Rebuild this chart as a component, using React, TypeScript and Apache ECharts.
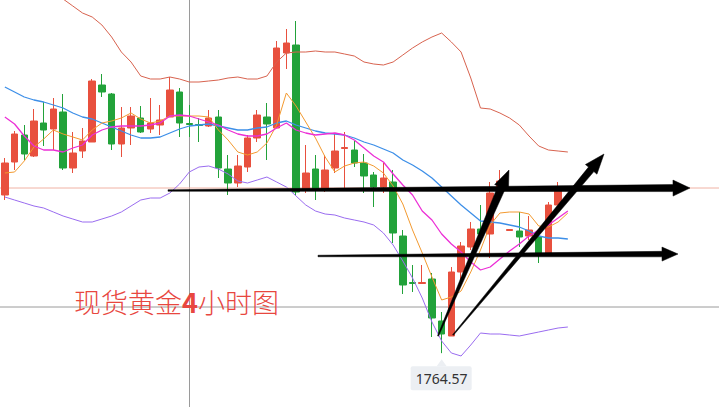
import React, { useEffect, useRef } from "react";
import * as echarts from "echarts";

// [open, close, low, high]
const candles: number[][] = [
  [1796.2, 1802.6, 1795.2, 1803.6],
  [1802.8, 1808.4, 1801.2, 1809.0],
  [1808.2, 1804.4, 1803.2, 1810.2],
  [1804.0, 1811.0, 1803.8, 1813.4],
  [1810.6, 1809.2, 1806.0, 1814.8],
  [1809.4, 1813.4, 1805.2, 1815.6],
  [1812.8, 1801.6, 1801.2, 1816.4],
  [1801.6, 1804.6, 1800.6, 1808.8],
  [1805.0, 1807.0, 1803.6, 1809.6],
  [1806.8, 1819.0, 1806.8, 1819.4],
  [1818.2, 1816.8, 1815.8, 1820.4],
  [1816.4, 1806.4, 1805.2, 1816.6],
  [1806.4, 1809.6, 1803.8, 1813.8],
  [1809.6, 1812.0, 1806.2, 1813.8],
  [1811.6, 1808.8, 1808.6, 1814.0],
  [1809.4, 1810.6, 1808.6, 1815.6],
  [1810.2, 1811.2, 1808.2, 1814.2],
  [1811.8, 1817.2, 1811.8, 1819.8],
  [1816.8, 1810.6, 1807.8, 1817.6],
  [1810.5, 1810.3, 1807.8, 1814.2],
  [1810.3, 1810.1, 1806.8, 1811.6],
  [1810.0, 1811.6, 1809.8, 1813.2],
  [1811.8, 1801.6, 1799.6, 1813.2],
  [1801.4, 1798.6, 1796.2, 1804.2],
  [1798.6, 1802.0, 1797.8, 1804.2],
  [1801.8, 1807.6, 1800.8, 1808.2],
  [1807.6, 1812.2, 1806.8, 1813.2],
  [1811.8, 1810.4, 1803.2, 1814.6],
  [1809.6, 1825.6, 1809.6, 1827.0],
  [1824.6, 1826.6, 1821.4, 1829.4],
  [1826.2, 1796.8, 1796.0, 1831.0],
  [1797.2, 1800.6, 1796.6, 1806.2],
  [1801.4, 1797.2, 1795.2, 1804.2],
  [1797.4, 1801.2, 1796.8, 1804.2],
  [1801.6, 1805.0, 1800.6, 1808.6],
  [1805.5, 1805.7, 1797.2, 1808.8],
  [1805.2, 1802.6, 1801.8, 1807.0],
  [1802.6, 1800.0, 1796.6, 1804.4],
  [1800.2, 1797.8, 1793.8, 1800.8],
  [1797.8, 1799.6, 1796.6, 1802.6],
  [1798.8, 1788.6, 1786.6, 1801.2],
  [1788.0, 1778.2, 1776.4, 1789.2],
  [1778.7, 1778.5, 1776.8, 1782.2],
  [1778.5, 1778.7, 1778.5, 1782.2],
  [1779.4, 1771.6, 1767.8, 1780.6],
  [1771.0, 1768.4, 1764.57, 1772.8],
  [1768.0, 1780.8, 1768.0, 1781.8],
  [1780.8, 1786.0, 1778.8, 1786.8],
  [1785.8, 1789.4, 1785.2, 1790.8],
  [1789.4, 1788.4, 1787.8, 1794.2],
  [1788.4, 1796.6, 1783.6, 1798.8],
  [1797.2, 1799.0, 1796.2, 1801.2],
  [1789.1, 1789.3, 1789.0, 1789.4],
  [1789.0, 1787.8, 1785.8, 1792.8],
  [1788.0, 1789.2, 1787.2, 1792.0],
  [1787.8, 1784.6, 1782.6, 1788.6],
  [1784.6, 1794.2, 1784.6, 1794.8],
  [1794.2, 1797.6, 1794.2, 1798.8],
];

const bollUpper = [
  1842.8, 1841.6, 1840.4, 1839.2, 1837.8, 1836.6, 1835.4, 1834.0, 1832.6, 1831.8,
  1830.2, 1827.8, 1824.8, 1822.8, 1820.0, 1819.4, 1819.4, 1819.8, 1819.4, 1818.8,
  1818.8, 1819.0, 1819.2, 1819.6, 1819.8, 1819.4, 1819.4, 1820.0, 1822.8, 1824.6,
  1824.8, 1824.8, 1825.0, 1824.8, 1824.8, 1824.4, 1824.0, 1822.8, 1822.4, 1822.2,
  1822.8, 1824.2, 1825.6, 1826.8, 1827.8, 1828.6, 1826.8, 1824.8, 1819.6, 1813.6,
  1813.4, 1812.6, 1811.6, 1810.2, 1808.0, 1806.0, 1805.2, 1805.0, 1804.8,
];

const bollMid = [
  1817.8, 1816.8, 1815.8, 1815.2, 1814.8, 1814.2, 1813.6, 1812.6, 1811.8, 1811.4,
  1810.6, 1809.8, 1809.0, 1808.2, 1807.6, 1807.6, 1807.8, 1808.6, 1809.4, 1810.0,
  1810.2, 1810.4, 1810.0, 1809.6, 1809.2, 1809.2, 1809.6, 1809.8, 1810.6, 1811.0,
  1810.2, 1809.6, 1809.0, 1808.6, 1808.4, 1808.2, 1807.6, 1806.8, 1806.2, 1805.4,
  1804.6, 1803.2, 1802.2, 1801.0, 1799.6, 1797.8, 1796.0, 1794.2, 1792.6, 1791.0,
  1790.8, 1790.6, 1790.2, 1789.8, 1789.0, 1788.0, 1787.6, 1787.6, 1787.4,
];

const bollLower = [
  1795.8, 1795.2, 1794.6, 1794.0, 1793.6, 1792.8, 1792.0, 1791.4, 1790.8, 1790.8,
  1791.4, 1792.0, 1792.8, 1794.0, 1795.2, 1795.6, 1795.6, 1796.6, 1798.4, 1800.8,
  1801.8, 1802.0, 1801.4, 1800.4, 1799.0, 1798.6, 1799.2, 1799.8, 1798.8, 1797.8,
  1796.0, 1794.2, 1793.0, 1792.4, 1792.2, 1791.6, 1791.2, 1790.8, 1790.2, 1788.6,
  1786.2, 1783.0, 1779.6, 1775.6, 1770.8, 1767.0, 1764.6, 1764.0, 1766.2, 1768.6,
  1768.4, 1768.4, 1768.2, 1768.0, 1768.4, 1768.8, 1769.2, 1769.6, 1769.8,
];

const ma5 = [
  1800.6, 1800.8, 1803.0, 1805.8, 1807.4, 1809.2, 1808.4, 1807.8, 1807.2, 1809.2,
  1810.6, 1811.0, 1811.6, 1812.6, 1811.4, 1810.6, 1811.0, 1812.0, 1812.0, 1812.0,
  1812.0, 1811.8, 1809.2, 1807.2, 1804.8, 1804.2, 1804.8, 1806.6, 1810.2, 1816.6,
  1814.0, 1810.8, 1807.6, 1803.8, 1800.8, 1802.0, 1802.6, 1802.8, 1802.0, 1800.6,
  1798.0, 1794.4, 1789.2, 1784.6, 1779.8, 1775.2, 1775.8, 1777.0, 1780.8, 1785.2,
  1790.2, 1792.6, 1792.8, 1792.8, 1792.4, 1790.0, 1789.8, 1790.8, 1792.6,
];

const ma10 = [
  1811.8, 1810.4, 1808.0, 1806.0, 1805.2, 1805.2, 1804.8, 1805.6, 1806.2, 1808.2,
  1809.2, 1809.8, 1810.0, 1810.0, 1810.0, 1810.2, 1810.6, 1812.0, 1812.2, 1812.0,
  1811.4, 1810.8, 1810.2, 1809.2, 1808.4, 1808.0, 1808.0, 1808.4, 1809.6, 1810.6,
  1809.2, 1808.6, 1808.2, 1808.4, 1808.6, 1808.2, 1807.2, 1805.6, 1804.0, 1802.8,
  1800.4, 1798.2, 1796.2, 1793.0, 1791.2, 1788.4, 1786.4, 1784.8, 1782.8, 1781.2,
  1781.8, 1783.4, 1785.0, 1786.4, 1788.0, 1789.2, 1790.2, 1791.6, 1793.0,
];

const SLOTS = 74;
const categories = Array.from({ length: SLOTS }, (_, i) => String(i + 1));

const priceLine = 1797.6;
const crossPrice = 1773.8;
const yMin = 1753.8;
const yMax = 1835.2;

const RED = "#e8503e";
const GREEN = "#22a23a";

function arrowPts(
  x0: number, y0: number, x1: number, y1: number,
  w0: number, w1: number, headLen: number, headW: number
) {
  const dx = x1 - x0, dy = y1 - y0;
  const L = Math.hypot(dx, dy);
  const ux = dx / L, uy = dy / L;
  const nx = -uy, ny = ux;
  const bx = x1 - ux * headLen, by = y1 - uy * headLen;
  return [
    [x0 + (nx * w0) / 2, y0 + (ny * w0) / 2],
    [bx + (nx * w1) / 2, by + (ny * w1) / 2],
    [bx + (nx * headW) / 2, by + (ny * headW) / 2],
    [x1, y1],
    [bx - (nx * headW) / 2, by - (ny * headW) / 2],
    [bx - (nx * w1) / 2, by - (ny * w1) / 2],
    [x0 - (nx * w0) / 2, y0 - (ny * w0) / 2],
  ];
}

export default function App() {
  const ref = useRef<HTMLDivElement>(null);

  useEffect(() => {
    if (!ref.current) return;
    const chart = echarts.init(ref.current, null, { renderer: "svg" });
    const lineSeries = (name: string, data: number[], color: string, width: number) => ({
      name,
      type: "line",
      data,
      symbol: "none",
      smooth: false,
      silent: true,
      z: 3,
      lineStyle: { color, width },
    });
    chart.setOption({
      animation: false,
      backgroundColor: "#ffffff",
      grid: { left: -5.4, width: 723.7, top: 0, height: 407, containLabel: false },
      xAxis: {
        type: "category",
        data: categories,
        boundaryGap: true,
        show: false,
      },
      yAxis: {
        type: "value",
        min: yMin,
        max: yMax,
        show: false,
        splitLine: { show: false },
      },
      series: [
        {
          type: "candlestick",
          data: candles,
          barWidth: 7,
          silent: true,
          z: 2,
          itemStyle: {
            color: RED,
            color0: GREEN,
            borderColor: RED,
            borderColor0: GREEN,
            borderWidth: 1,
          },
        },
        lineSeries("upper", bollUpper, "#d8634f", 1),
        lineSeries("mid", bollMid, "#3d8fe8", 1.3),
        lineSeries("lower", bollLower, "#9a6cf0", 1),
        lineSeries("ma5", ma5, "#f39a30", 1),
        lineSeries("ma10", ma10, "#ec2fd6", 1.3),
      ],
    });

    // locate lowest low through the axes
    let lowIdx = 0;
    candles.forEach((c, i) => {
      if (c[2] < candles[lowIdx][2]) lowIdx = i;
    });
    const lowVal = candles[lowIdx][2];
    const lowPt = chart.convertToPixel({ gridIndex: 0 }, [lowIdx, lowVal]) as number[];
    const priceY = chart.convertToPixel({ yAxisIndex: 0 }, priceLine) as number;
    const crossY = chart.convertToPixel({ yAxisIndex: 0 }, crossPrice) as number;
    const lx = lowPt[0];
    const boxTop = lowPt[1] + 13;

    const black = { fill: "#000000", stroke: "#000000", lineWidth: 0.5 };

    chart.setOption({
      graphic: [
        // crosshair
        { type: "line", z: 0, silent: true, shape: { x1: 189.5, y1: 0, x2: 189.5, y2: 407 }, style: { stroke: "#9a9a9a", lineWidth: 1 } },
        { type: "line", z: 0, silent: true, shape: { x1: 0, y1: crossY, x2: 719, y2: crossY }, style: { stroke: "#9a9a9a", lineWidth: 1 } },
        // current price line
        { type: "line", z: 0, silent: true, shape: { x1: 0, y1: priceY, x2: 719, y2: priceY }, style: { stroke: "#f0b2a4", lineWidth: 1 } },
        // low label
        { type: "polygon", z: 20, silent: true, shape: { points: [[lx - 5, boxTop], [lx, boxTop - 7], [lx + 5, boxTop]] }, style: { fill: "#eceff3" } },
        { type: "rect", z: 20, silent: true, shape: { x: lx - 31, y: boxTop, width: 61, height: 24, r: 2 }, style: { fill: "#eceff3" } },
        {
          type: "text", z: 21, silent: true, x: lx, y: boxTop + 12,
          style: {
            text: lowVal.toFixed(2), fill: "#333333", fontSize: 14,
            fontFamily: "Noto Sans, sans-serif", align: "center", verticalAlign: "middle",
          },
        },
        // title text
        {
          type: "text", z: 21, silent: true, x: 74, y: 301,
          style: {
            text: "{a|现货黄金}{b|4}{a|小时图}",
            verticalAlign: "middle",
            rich: {
              a: { fontSize: 27, fill: "#e8473f", fontFamily: "Noto Sans CJK SC", fontWeight: 300 },
              b: { fontSize: 27, fill: "#e8473f", fontFamily: "Noto Sans CJK SC", fontWeight: "bold" },
            },
          },
        },
        // arrows
        { type: "polygon", z: 30, silent: true, shape: { points: arrowPts(168, 190.5, 690, 188, 1.5, 7, 17, 16) }, style: black },
        { type: "polygon", z: 30, silent: true, shape: { points: arrowPts(318, 256, 678, 254, 1.5, 5.5, 16, 14) }, style: black },
        { type: "polygon", z: 30, silent: true, shape: { points: arrowPts(438, 336, 509, 170, 1, 8, 19, 15) }, style: black },
        { type: "polygon", z: 30, silent: true, shape: { points: arrowPts(453, 335, 604, 154, 1, 7, 20, 15) }, style: black },
      ],
    });

    return () => chart.dispose();
  }, []);

  return (
    <div
      ref={ref}
      style={{ position: "fixed", left: 0, top: 0, width: 719, height: 407, background: "#fff" }}
    />
  );
}
